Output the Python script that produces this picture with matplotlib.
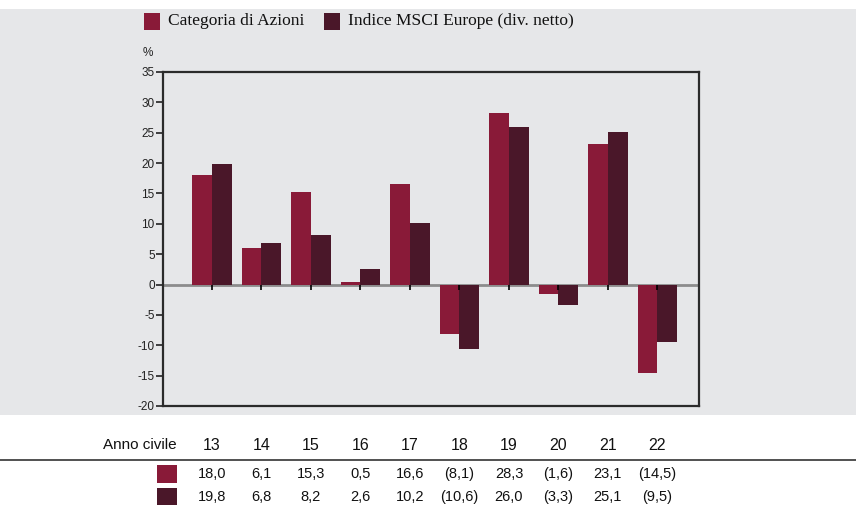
import numpy as np
import matplotlib.pyplot as plt
from matplotlib.patches import Rectangle

# ---------------- data ----------------
years = ["13", "14", "15", "16", "17", "18", "19", "20", "21", "22"]
categoria = [18.0, 6.1, 15.3, 0.5, 16.6, -8.1, 28.3, -1.6, 23.1, -14.5]
msci = [19.8, 6.8, 8.2, 2.6, 10.2, -10.6, 26.0, -3.3, 25.1, -9.5]
series_names = ["Categoria di Azioni", "Indice MSCI Europe (div. netto)"]
yticks = list(range(-20, 36, 5))

c1 = "#891a38"
c2 = "#4a1729"
bg = "#e6e7e9"
sans = ["Liberation Sans", "DejaVu Sans"]
serif = ["Liberation Serif", "DejaVu Serif"]


def fmt(v):
    s = f"{abs(v):.1f}".replace(".", ",")
    return f"({s})" if v < 0 else s


fig = plt.figure(figsize=(8.56, 5.05), dpi=100)
fig.patch.set_facecolor("white")
# grey band behind chart
fig.patches.append(Rectangle((0, 1 - 415 / 505), 1, (415 - 9) / 505,
                             transform=fig.transFigure, facecolor=bg,
                             edgecolor="none", zorder=-5))

ax = fig.add_axes([163 / 856, 1 - 406 / 505, 536 / 856, 334 / 505])
ax.set_facecolor(bg)
x = np.arange(len(years))
w = 0.4
ax.axhline(0, color="#8c8c8c", lw=2, zorder=1)
ax.bar(x - w / 2, categoria, w, color=c1, zorder=2)
ax.bar(x + w / 2, msci, w, color=c2, zorder=2)
ax.vlines(x, -0.9, 0, color="black", lw=1.2, zorder=3)

ax.set_xlim(-0.99, 9.84)
ax.set_ylim(-20, 35)
ax.set_xticks([])
ax.set_yticks(yticks)
ax.set_yticklabels([str(t) for t in yticks], family=sans, fontsize=8.5, color="#222222")
ax.tick_params(axis="y", length=5, width=1.2, pad=1, color="#222222")
for s in ax.spines.values():
    s.set_color("#2b2b2b")
    s.set_linewidth(1.6)

fig.text(143 / 856, 1 - 53 / 505, "%", family=sans, fontsize=8.5, ha="left",
         va="center", color="#222222")

# legend
for name, col, px in zip(series_names, [c1, c2], [144, 324]):
    fig.patches.append(Rectangle((px / 856, 1 - 30 / 505), 16 / 856, 17 / 505,
                                 transform=fig.transFigure, facecolor=col,
                                 edgecolor="none", zorder=2))
    fig.text((px + 24) / 856, 1 - 21 / 505, name, family=serif, fontsize=12.5,
             ha="left", va="center", color="#111111")

# table below
ax_fx = lambda xv: ax.transData.transform((xv, 0))[0] / fig.dpi / fig.get_figwidth()
fig.text(177 / 856, 1 - 445 / 505, "Anno civile", family=sans, fontsize=11,
         ha="right", va="center", color="#111111")
for i, yr in enumerate(years):
    fig.text(ax_fx(x[i]), 1 - 445 / 505, yr, family=sans, fontsize=11.5,
             ha="center", va="center", color="#111111")
fig.add_artist(plt.Line2D([0, 1], [1 - 460 / 505] * 2, color="#333333", lw=1.2))
for vals, col, py in zip([categoria, msci], [c1, c2], [474, 497]):
    fig.patches.append(Rectangle((157 / 856, 1 - (py + 9) / 505), 20 / 856, 18 / 505,
                                 transform=fig.transFigure, facecolor=col,
                                 edgecolor="none", zorder=2))
    for i, v in enumerate(vals):
        fig.text(ax_fx(x[i]), 1 - py / 505, fmt(v), family=sans,
                 fontsize=10.5, ha="center", va="center", color="#111111")

fig.savefig("out.png", dpi=100)
